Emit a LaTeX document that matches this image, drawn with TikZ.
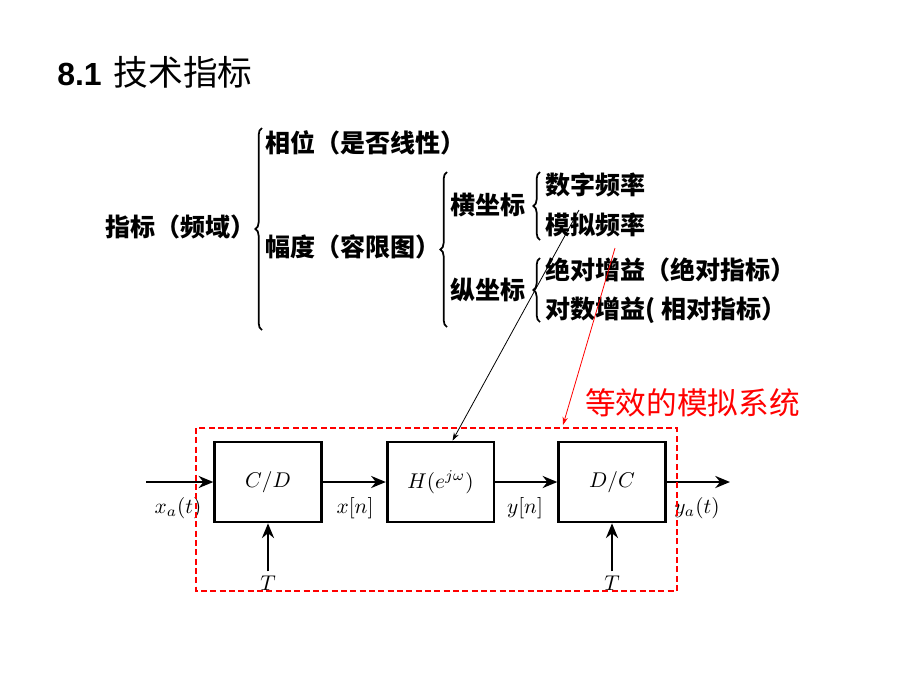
\documentclass[tikz,border=0pt]{standalone}
\usepackage{fontspec}
\setmainfont{Liberation Serif}
\newfontfamily\cjk{Noto Sans CJK SC}
\newfontfamily\titlefont{Liberation Sans}
\usetikzlibrary{arrows.meta,decorations.pathreplacing,positioning}
\newcommand{\mathlbl}[1]{\scalebox{1.6}{$#1$}}

\tikzset{
  item/.style={anchor=west,inner sep=0pt,font=\cjk\bfseries\fontsize{18.8}{20}\selectfont},
  blk/.style={draw,line width=2pt,minimum width=80pt,minimum height=60pt},
  sig/.style={line width=2pt,-{Stealth[length=11pt,width=9pt]}},
  brc/.style={decorate,decoration={brace,amplitude=5pt},line width=1.3pt},
  lbl/.style={inner sep=0pt}
}

\begin{document}
\begin{tikzpicture}[x=0.75pt,y=-0.75pt]
\useasboundingbox[fill=white] (0,0) rectangle (920,690);

\node[anchor=west,inner sep=0pt] (title) at (57,72)
  {{\titlefont\bfseries\fontsize{24}{30}\selectfont 8.1}\hspace{9pt}{\cjk\fontsize{26}{30}\selectfont 技术指标}};

% tree of indices
\node[item] (root)   at (105,227) {指标（频域）};
\node[item] (phase)  at (265,143) {相位（是否线性）};
\node[item] (amp)    at (265,247) {幅度（容限图）};
\node[item] (hor)    at (450,205) {横坐标};
\node[item] (ver)    at (450,290) {纵坐标};
\node[item] (digf)   at (545,185) {数字频率};
\node[item] (anaf)   at (545,225) {模拟频率};
\node[item] (absg)   at (545,270) {绝对增益（绝对指标）};
\node[item] (logg)   at (545,310) {对数增益( 相对指标）};

\draw[brc] (262,330) -- (262,128);
\draw[brc] (447,327) -- (447,172);
\draw[brc] (540,240) -- (540,172);
\draw[brc] (540,322) -- (540,258);

% block diagram
\node[blk] (cd) at (268,482) {\mathlbl{C/D}};
\node[blk] (h)  at (440.5,482) {\mathlbl{H(e^{j\omega})}};
\node[blk] (dc) at (612,482) {\mathlbl{D/C}};

\coordinate (in)  at (146,482);
\coordinate (out) at (730,482);
\draw[sig] (in) -- (cd);
\draw[sig] (cd) -- (h);
\draw[sig] (h) -- (dc);
\draw[sig] (dc) -- (out);

\node[lbl] at (178,508) {\mathlbl{x_a(t)}};
\node[lbl] at (355,508) {\mathlbl{x[n]}};
\node[lbl] at (525,508) {\mathlbl{y[n]}};
\node[lbl] at (697,508) {\mathlbl{y_a(t)}};

\node[lbl,inner sep=3pt] (t1) at (268,583) {\mathlbl{T}};
\node[lbl,inner sep=3pt] (t2) at (612,583) {\mathlbl{T}};
\draw[sig] (t1) -- (cd);
\draw[sig] (t2) -- (dc);

\draw[red,dash pattern=on 4.5pt off 2.5pt,line width=0.8pt] (196,428) rectangle (677,591);

\node[anchor=west,inner sep=0pt,text=red,font=\cjk\fontsize{23}{26}\selectfont]
  (equiv) at (585,403) {等效的模拟系统};

\coordinate (blkstart) at (579,210);
\draw[line width=0.6pt,-{Stealth[length=6pt,width=4pt]}] (blkstart) -- ([xshift=9pt]h.north);
\coordinate (redstart) at (615,248);
\coordinate (redend)   at (563,425);
\draw[red,line width=0.6pt,-{Stealth[length=6pt,width=4pt]}] (redstart) -- (redend);
\end{tikzpicture}
\end{document}
